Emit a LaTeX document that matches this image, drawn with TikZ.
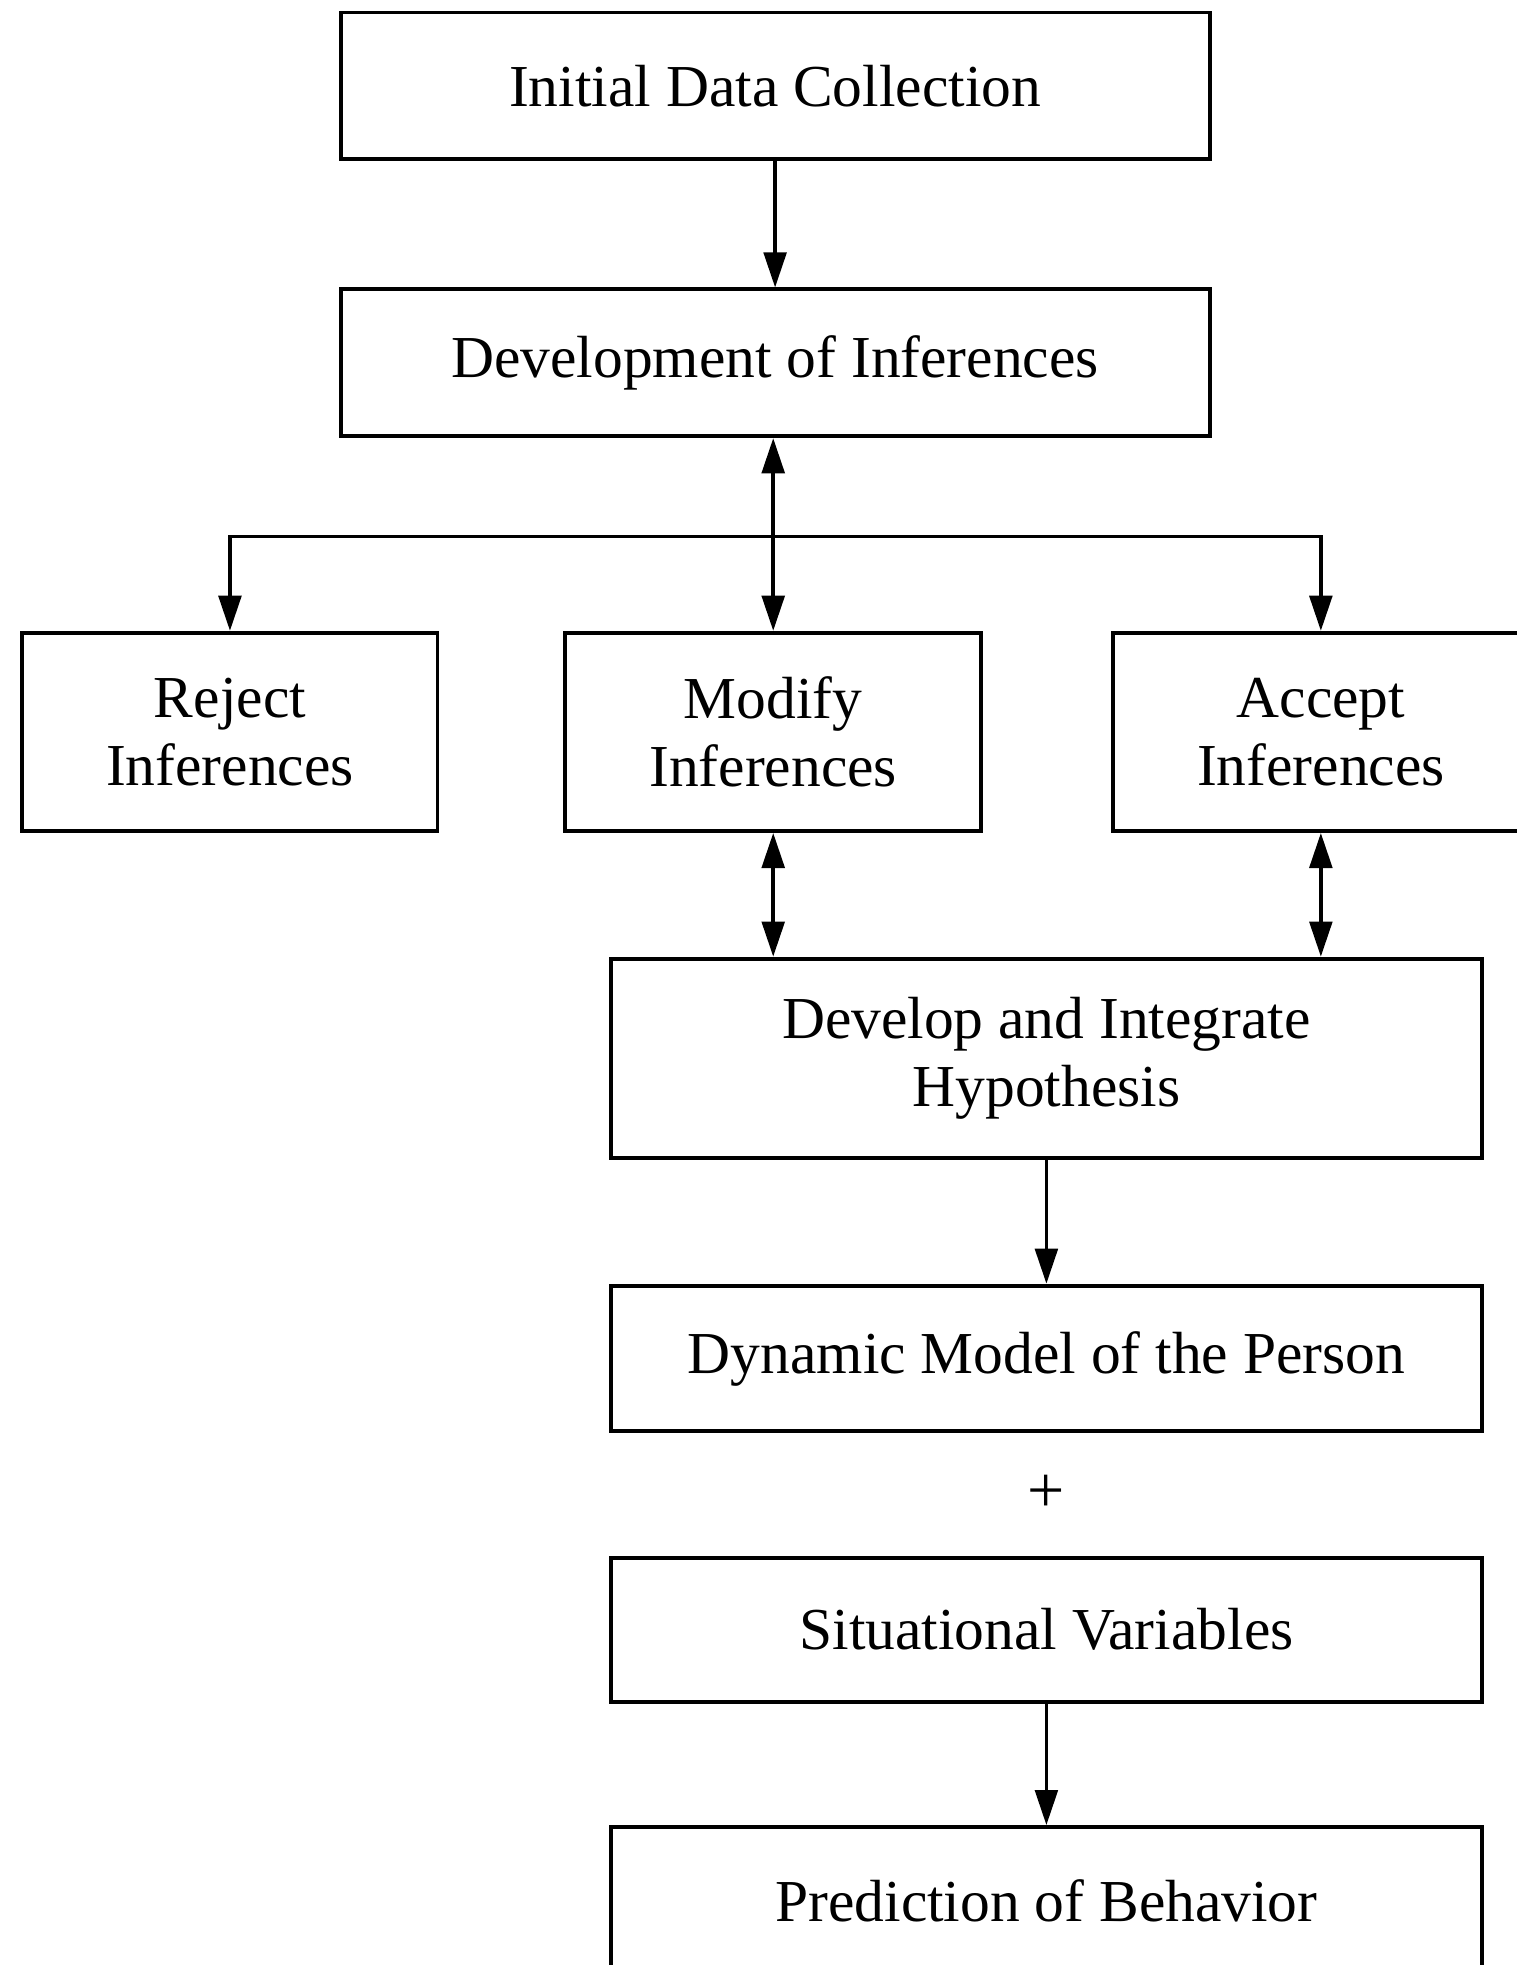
\documentclass[tikz,border=0pt]{standalone}
\usepackage{fontspec}
\setmainfont{Liberation Serif}
\usetikzlibrary{positioning,arrows.meta}

\begin{document}
\begin{tikzpicture}[x=0.01cm, y=-0.01cm, line width=0.85pt,
	box/.style = {draw, line width=0.9pt, inner sep=0pt, align=center,
		font=\fontsize{13.5}{15.5}\selectfont},
	wide/.style = {box, minimum width=6.93cm, minimum height=1.17cm},
	small/.style = {box, minimum width=3.32cm, minimum height=1.58cm},
	arr/.style = {-{Triangle[length=0.28cm, width=0.18cm]}},
	darr/.style = {{Triangle[length=0.28cm, width=0.18cm]}-{Triangle[length=0.28cm, width=0.18cm]}}]
		\useasboundingbox (0,0) rectangle (1210,1568);
		\node[wide] (init) at (618.5,68.5) {Initial Data Collection};
		\node[wide] (dev) at (618.5,289.5) {Development of Inferences};
		\node[small, minimum width=3.31cm] (reject) at (183.5,584) {Reject\\Inferences};
		\node[small] (modify) at (617,584) {Modify\\Inferences};
		\node[small] (accept) at (1054,584) {Accept\\Inferences};
		\node[wide, minimum width=6.94cm, minimum height=1.59cm] (hyp) at (835,844.5) {Develop and Integrate\\Hypothesis};
		\node[wide, minimum width=6.94cm, minimum height=1.16cm] (dyn) at (835,1084) {Dynamic Model of the Person};
		\node[font=\fontsize{15}{15}\selectfont] (plus) at (835,1192) {+};
		\node[wide, minimum width=6.94cm, minimum height=1.15cm] (sit) at (835,1300.5) {Situational Variables};
		\node[wide, minimum width=6.94cm, minimum height=1.17cm] (pred) at (835,1516.5) {Prediction of Behavior};
		\coordinate (split) at (617,428);
		\draw[arr] (init) -- (dev);
		\draw[darr] (dev.south -| modify) -- (modify);
		\draw[arr] (split) -| (reject);
		\draw[arr] (split) -| (accept);
		\draw[darr] (modify) -- (modify |- hyp.north);
		\draw[darr] (accept) -- (accept |- hyp.north);
		\draw[arr] (hyp) -- (dyn);
		\draw[arr] (sit) -- (pred);
	\end{tikzpicture}
\end{document}
